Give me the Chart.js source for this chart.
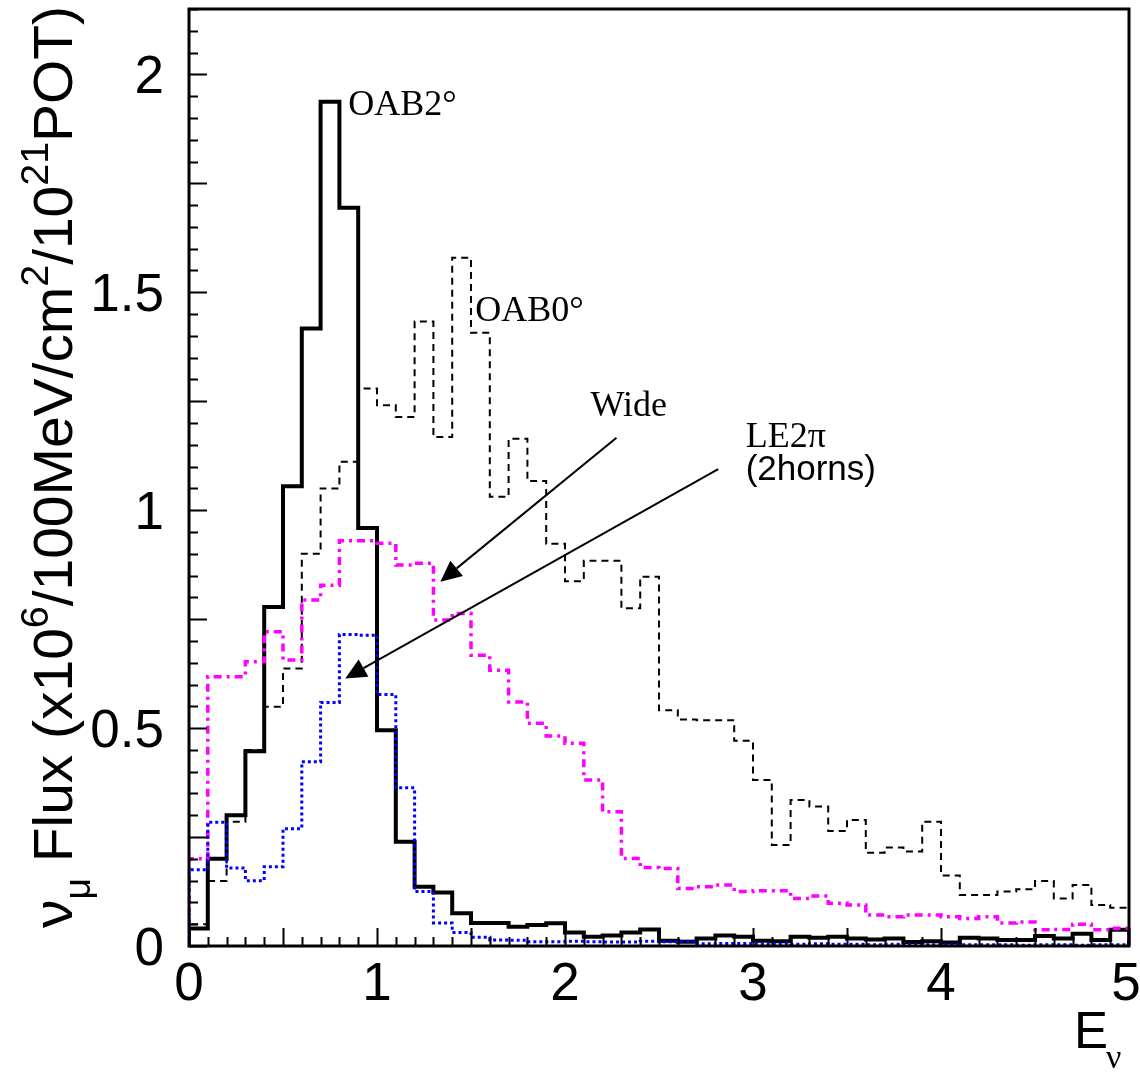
<!DOCTYPE html>
<html>
<head>
<meta charset="utf-8">
<script src="https://cdn.jsdelivr.net/npm/chart.js@4.4.1/dist/chart.umd.min.js"></script>
<style>
  html, body { margin: 0; padding: 0; background: #fff; }
</style>
</head>
<body>
<canvas id="flux" width="1140" height="1072"></canvas>
<script>
// bin low edges (GeV), 100 MeV bins, plus the last upper edge
const binEdges = [0.0, 0.1, 0.2, 0.3, 0.4, 0.5, 0.6, 0.7, 0.8, 0.9,
  1.0, 1.1, 1.2, 1.3, 1.4, 1.5, 1.6, 1.7, 1.8, 1.9,
  2.0, 2.1, 2.2, 2.3, 2.4, 2.5, 2.6, 2.7, 2.8, 2.9,
  3.0, 3.1, 3.2, 3.3, 3.4, 3.5, 3.6, 3.7, 3.8, 3.9,
  4.0, 4.1, 4.2, 4.3, 4.4, 4.5, 4.6, 4.7, 4.8, 4.9, 5.0];

// flux per bin
const oab2 = [0.04, 0.20, 0.30, 0.447, 0.778, 1.055, 1.417, 1.937, 1.694, 0.959,
  0.495, 0.239, 0.136, 0.123, 0.075, 0.053, 0.053, 0.044, 0.048, 0.052,
  0.031, 0.021, 0.024, 0.031, 0.038, 0.012, 0.010, 0.017, 0.024, 0.021,
  0.012, 0.011, 0.021, 0.019, 0.021, 0.017, 0.015, 0.017, 0.009, 0.011,
  0.008, 0.019, 0.017, 0.014, 0.014, 0.023, 0.017, 0.028, 0.014, 0.037];
const oab0 = [0.05, 0.149, 0.285, 0.45, 0.549, 0.637, 0.90, 1.05, 1.111, 1.279,
  1.241, 1.214, 1.433, 1.168, 1.579, 1.407, 1.031, 1.164, 1.067, 0.923,
  0.837, 0.884, 0.884, 0.775, 0.847, 0.541, 0.52, 0.518, 0.518, 0.471,
  0.381, 0.232, 0.335, 0.32, 0.264, 0.289, 0.214, 0.226, 0.217, 0.285,
  0.162, 0.117, 0.117, 0.125, 0.13, 0.149, 0.109, 0.14, 0.094, 0.088];
const wide = [0.2, 0.618, 0.618, 0.652, 0.721, 0.656, 0.794, 0.828, 0.93, 0.93,
  0.924, 0.874, 0.878, 0.748, 0.763, 0.667, 0.633, 0.56, 0.511, 0.482,
  0.465, 0.381, 0.308, 0.201, 0.18, 0.178, 0.132, 0.136, 0.14, 0.125,
  0.127, 0.127, 0.109, 0.115, 0.098, 0.094, 0.071, 0.067, 0.071, 0.071,
  0.067, 0.063, 0.067, 0.053, 0.055, 0.037, 0.038, 0.05, 0.037, 0.041];
const le2pi = [0.175, 0.284, 0.179, 0.15, 0.182, 0.269, 0.423, 0.559, 0.715, 0.713,
  0.577, 0.363, 0.125, 0.053, 0.031, 0.02, 0.014, 0.013, 0.01, 0.01,
  0.011, 0.01, 0.009, 0.009, 0.011, 0.01, 0.011, 0.005, 0.006, 0.006,
  0.005, 0.005, 0.004, 0.005, 0.004, 0.004, 0.003, 0.004, 0.003, 0.003,
  0.003, 0.003, 0.003, 0.003, 0.002, 0.003, 0.003, 0.002, 0.003, 0.003];

const xTickLabels = [0, 1, 2, 3, 4, 5];
const yTickLabels = [0, 0.5, 1, 1.5, 2];
const yMax = 2.15;

// text labels and arrows, in data units
const notes = [
  { text: "OAB2°", x: 0.847, y: 1.907, font: "36px 'Liberation Serif'" },
  { text: "OAB0°", x: 1.523, y: 1.433, font: "36px 'Liberation Serif'" },
  { text: "Wide", x: 2.135, y: 1.215, font: "36px 'Liberation Serif'" },
  { text: "LE2π", x: 2.961, y: 1.146, font: "36px 'Liberation Serif'" },
  { text: "(2horns)", x: 2.961, y: 1.069, font: "35px 'Liberation Sans'" }
];
const arrows = [
  { from: [2.274, 1.166], to: [1.337, 0.836] },
  { from: [2.815, 1.094], to: [0.831, 0.614] }
];

// histogram outline: up from 0 at the first edge, flat over each bin, down at the end
function histPoints(vals) {
  const pts = [{ x: binEdges[0], y: 0 }];
  vals.forEach((v, i) => pts.push({ x: binEdges[i], y: v }));
  pts.push({ x: binEdges[binEdges.length - 1], y: vals[vals.length - 1] });
  pts.push({ x: binEdges[binEdges.length - 1], y: 0 });
  return pts;
}

const rootStyle = {
  id: "rootStyle",
  afterDatasetsDraw(chart) {
    const ctx = chart.ctx;
    const a = chart.chartArea;
    const xs = chart.scales.x, ys = chart.scales.y;
    ctx.save();
    ctx.strokeStyle = "#000";
    ctx.fillStyle = "#000";

    // ticks, pointing inside
    ctx.lineWidth = 2;
    ctx.beginPath();
    for (let k = 0; k * 0.05 <= yMax + 1e-9; k++) {
      const py = Math.round(ys.getPixelForValue(k * 0.05)) + 0.5;
      const len = k % 5 === 0 ? 18 : 9;
      ctx.moveTo(a.left, py);
      ctx.lineTo(a.left + len, py);
    }
    for (let k = 0; k <= 50; k++) {
      const px = Math.round(xs.getPixelForValue(k * 0.1)) + 0.5;
      const len = k % 5 === 0 ? 18 : 9;
      ctx.moveTo(px, a.bottom);
      ctx.lineTo(px, a.bottom - len);
    }
    ctx.stroke();

    // frame
    ctx.lineWidth = 3;
    ctx.strokeRect(a.left, a.top, a.right - a.left, a.bottom - a.top);

    // tick labels
    ctx.font = "53px 'Liberation Sans'";
    ctx.textBaseline = "alphabetic";
    ctx.textAlign = "right";
    yTickLabels.forEach(v => {
      ctx.fillText(String(v), 164, ys.getPixelForValue(v) + 19);
    });
    ctx.textAlign = "center";
    xTickLabels.forEach(v => {
      let px = xs.getPixelForValue(v);
      if (v === 5) px -= 3;
      ctx.fillText(String(v), px, 1000);
    });

    // x title E_nu
    ctx.textAlign = "left";
    ctx.font = "51px 'Liberation Sans'";
    ctx.fillText("E", 1074, 1048);
    ctx.font = "34px 'Liberation Serif'";
    ctx.fillText("ν", 1106, 1068);

    // y title, rotated, bottom to top
    const big = "55px 'Liberation Sans'", sub = "36px 'Liberation Sans'", sup = "38px 'Liberation Sans'";
    const parts = [
      { t: "ν", f: big, dy: 0 },
      { t: "μ", f: sub, dy: 18 },
      { t: " Flux (x10", f: big, dy: 0 },
      { t: "6", f: sup, dy: -24 },
      { t: "/100MeV/cm", f: big, dy: 0 },
      { t: "2", f: sup, dy: -24 },
      { t: "/10", f: big, dy: 0 },
      { t: "21", f: sup, dy: -24 },
      { t: "POT)", f: big, dy: 0 }
    ];
    let total = 0;
    parts.forEach(p => { ctx.font = p.f; p.w = ctx.measureText(p.t).width; total += p.w; });
    const sx = 922 / total;
    ctx.save();
    ctx.translate(72, 928);
    ctx.rotate(-Math.PI / 2);
    ctx.scale(sx, 1);
    let cx = 0;
    parts.forEach(p => {
      ctx.font = p.f;
      ctx.fillText(p.t, cx, p.dy);
      cx += p.w;
    });
    ctx.restore();

    // notes
    notes.forEach(n => {
      ctx.font = n.font;
      ctx.fillText(n.text, xs.getPixelForValue(n.x), ys.getPixelForValue(n.y));
    });

    // arrows
    ctx.lineWidth = 2;
    arrows.forEach(ar => {
      const x1 = xs.getPixelForValue(ar.from[0]), y1 = ys.getPixelForValue(ar.from[1]);
      const x2 = xs.getPixelForValue(ar.to[0]), y2 = ys.getPixelForValue(ar.to[1]);
      const ang = Math.atan2(y2 - y1, x2 - x1);
      const hl = 21, hw = 10;
      const bx = x2 - hl * Math.cos(ang), by = y2 - hl * Math.sin(ang);
      ctx.beginPath();
      ctx.moveTo(x1, y1);
      ctx.lineTo(bx, by);
      ctx.stroke();
      ctx.beginPath();
      ctx.moveTo(x2, y2);
      ctx.lineTo(bx + hw * Math.sin(ang), by - hw * Math.cos(ang));
      ctx.lineTo(bx - hw * Math.sin(ang), by + hw * Math.cos(ang));
      ctx.closePath();
      ctx.fill();
    });
    ctx.restore();
  }
};

const ctx = document.getElementById("flux").getContext("2d");
new Chart(ctx, {
  type: "line",
  data: {
    datasets: [
      { label: "OAB2°", data: histPoints(oab2), borderColor: "#000000", borderWidth: 4, order: 4 },
      { label: "OAB0°", data: histPoints(oab0), borderColor: "#000000", borderWidth: 2, borderDash: [7, 5], order: 3 },
      { label: "Wide", data: histPoints(wide), borderColor: "#ff00ff", borderWidth: 3.5, borderDash: [8, 5, 3, 5], order: 2 },
      { label: "LE2π (2horns)", data: histPoints(le2pi), borderColor: "#0000ff", borderWidth: 3, borderDash: [3, 3], order: 1 }
    ]
  },
  options: {
    responsive: false,
    animation: false,
    devicePixelRatio: 1,
    layout: { padding: { left: 189, right: 11, top: 9, bottom: 126 } },
    elements: {
      line: { stepped: "before", tension: 0, fill: false, borderCapStyle: "butt", borderJoinStyle: "miter" },
      point: { radius: 0 }
    },
    scales: {
      x: { type: "linear", min: 0, max: 5, display: false },
      y: { type: "linear", min: 0, max: yMax, display: false }
    },
    plugins: {
      legend: { display: false },
      tooltip: { enabled: false }
    }
  },
  plugins: [rootStyle]
});
</script>
</body>
</html>
